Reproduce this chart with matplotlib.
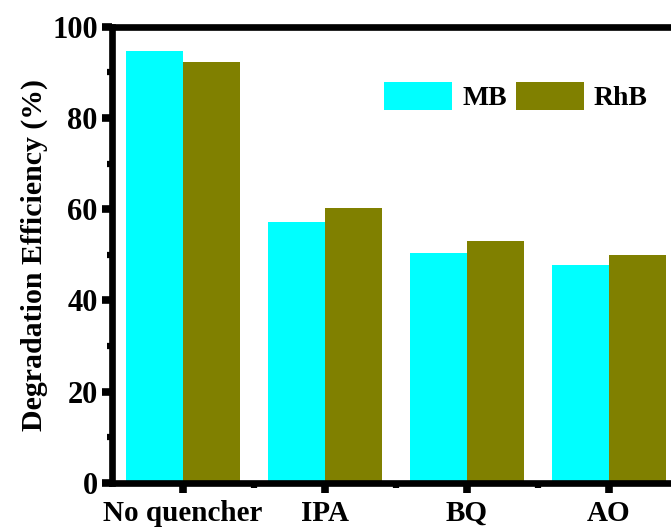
import numpy as np
import matplotlib.pyplot as plt
from matplotlib.ticker import MultipleLocator, FixedLocator

plt.rcParams['font.family'] = ['Liberation Serif', 'DejaVu Serif']
plt.rcParams['font.weight'] = 'bold'

categories = ['No quencher', 'IPA', 'BQ', 'AO']
mb = [94.6, 57.3, 50.4, 47.7]
rhb = [92.2, 60.2, 53.1, 50.0]

fig = plt.figure(figsize=(6.71, 5.29), dpi=100)
ax = fig.add_axes([0.1665, 0.087, 0.8465, 0.8626])

x = np.arange(len(categories))
w = 0.4
ax.bar(x - w/2, mb, w, color='#00FFFF', edgecolor='none', label='MB')
ax.bar(x + w/2, rhb, w, color='#808000', edgecolor='none', label='RhB')

ax.set_xlim(-0.5, 3.5)
ax.set_ylim(0, 100)
ax.set_xticks(x)
ax.set_xticklabels(categories)
ax.xaxis.set_minor_locator(FixedLocator(x[:-1] + 0.5))
ax.yaxis.set_major_locator(MultipleLocator(20))
ax.yaxis.set_minor_locator(MultipleLocator(10))

for s in ax.spines.values():
    s.set_linewidth(4.8)
ax.spines['right'].set_visible(False)

ax.tick_params(which='major', direction='out', length=7, width=5.5)
ax.tick_params(axis='y', which='major', labelsize=22, pad=3)
ax.tick_params(axis='x', which='major', labelsize=21, pad=5)
ax.tick_params(which='minor', direction='out', length=3.5, width=4.5)
ax.tick_params(axis='x', which='both', top=False)
ax.tick_params(axis='y', which='both', right=False)
for lab in ax.get_xticklabels() + ax.get_yticklabels():
    lab.set_fontweight('bold')

ax.set_ylabel('Degradation Efficiency (%)', fontsize=21.5, fontweight='bold', labelpad=3)

ax.legend(ncol=2, frameon=False, loc='center', bbox_to_anchor=(0.769, 0.8176),
          bbox_transform=fig.transFigure, handlelength=2.45,
          handleheight=1.2, handletextpad=0.36, columnspacing=0.33,
          prop={'weight': 'bold', 'size': 20})

fig.savefig('out.png', dpi=100)
